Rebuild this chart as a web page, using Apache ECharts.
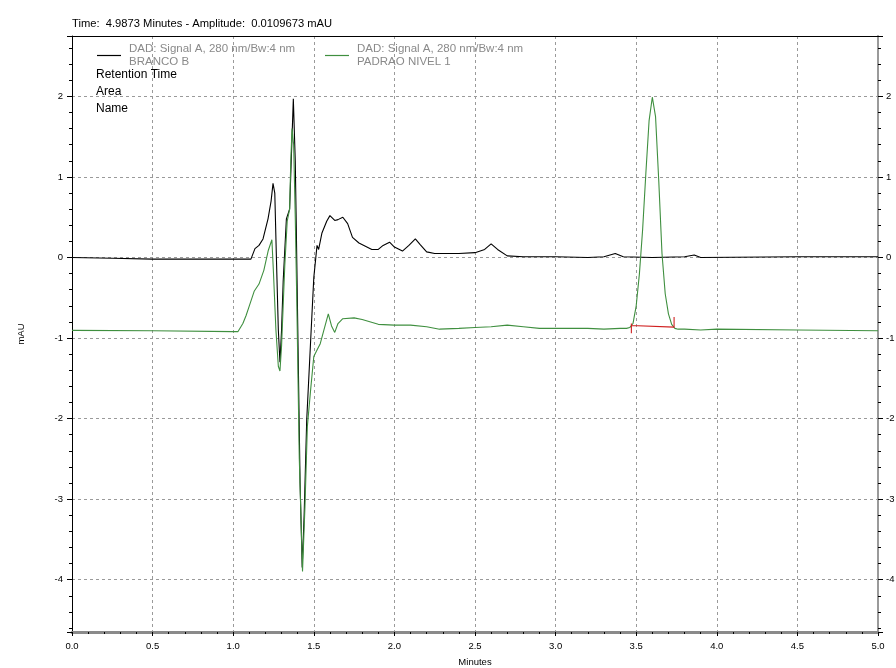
<!DOCTYPE html>
<html>
<head>
<meta charset="utf-8">
<script src="https://cdn.jsdelivr.net/npm/echarts@6/dist/echarts.min.js"></script>
<style>html,body{margin:0;padding:0;background:#fff}#c{width:896px;height:668px}</style>
</head>
<body>
<div id="c"></div>
<script>
// ---- data ----
var headerText = 'Time:  4.9873 Minutes - Amplitude:  0.0109673 mAU';
var signalLabel = 'DAD: Signal A, 280 nm/Bw:4 nm';
var seriesNames = ['BRANCO B', 'PADRAO NIVEL 1'];
var infoLines = ['Retention Time', 'Area', 'Name'];

var brancoTimes = [0, 0.25, 0.5, 0.75, 1.0, 1.11, 1.135, 1.16, 1.185, 1.216, 1.235, 1.247, 1.258, 1.268, 1.28, 1.29, 1.30, 1.31, 1.33, 1.35, 1.36, 1.373, 1.385, 1.39, 1.40, 1.415, 1.428, 1.44, 1.456, 1.48, 1.50, 1.52, 1.53, 1.55, 1.58, 1.60, 1.63, 1.65, 1.68, 1.71, 1.74, 1.78, 1.82, 1.86, 1.90, 1.93, 1.97, 2.00, 2.05, 2.09, 2.13, 2.16, 2.20, 2.25, 2.40, 2.50, 2.56, 2.60, 2.64, 2.70, 2.80, 3.00, 3.20, 3.30, 3.37, 3.42, 3.60, 3.80, 3.86, 3.90, 4.50, 5.00];
var brancoValues = [0.0, -0.01, -0.02, -0.02, -0.02, -0.02, 0.11, 0.15, 0.23, 0.48, 0.7, 0.92, 0.8, 0.0, -0.9, -1.3, -0.9, -0.3, 0.48, 0.6, 1.2, 1.97, 1.2, 0.56, -0.8, -2.8, -3.85, -3.2, -2.02, -1.05, -0.25, 0.15, 0.1, 0.3, 0.45, 0.52, 0.46, 0.47, 0.5, 0.42, 0.25, 0.18, 0.14, 0.1, 0.1, 0.15, 0.19, 0.13, 0.08, 0.15, 0.23, 0.16, 0.07, 0.05, 0.05, 0.06, 0.1, 0.17, 0.1, 0.02, 0.01, 0.01, 0.0, 0.01, 0.05, 0.01, 0.0, 0.01, 0.03, 0.0, 0.01, 0.01];

var padraoTimes = [0, 0.5, 1.0, 1.03, 1.06, 1.08, 1.10, 1.13, 1.16, 1.19, 1.218, 1.24, 1.25, 1.265, 1.28, 1.29, 1.30, 1.31, 1.32, 1.335, 1.35, 1.357, 1.365, 1.375, 1.385, 1.395, 1.41, 1.43, 1.445, 1.46, 1.48, 1.50, 1.52, 1.54, 1.56, 1.59, 1.61, 1.63, 1.65, 1.68, 1.75, 1.80, 1.90, 2.00, 2.10, 2.20, 2.28, 2.40, 2.50, 2.60, 2.70, 2.80, 2.90, 3.00, 3.20, 3.30, 3.40, 3.44, 3.46, 3.48, 3.50, 3.52, 3.54, 3.56, 3.58, 3.60, 3.62, 3.64, 3.66, 3.68, 3.70, 3.72, 3.74, 3.76, 3.80, 3.90, 4.00, 4.50, 5.00];
var padraoValues = [-0.905, -0.91, -0.92, -0.92, -0.82, -0.72, -0.6, -0.42, -0.33, -0.16, 0.09, 0.22, -0.2, -0.9, -1.35, -1.41, -1.1, -0.6, -0.1, 0.45, 0.6, 1.18, 1.6, 1.4, 0.5, -0.6, -2.5, -3.9, -3.1, -2.1, -1.65, -1.23, -1.15, -1.07, -0.92, -0.7, -0.85, -0.93, -0.82, -0.76, -0.75, -0.77, -0.83, -0.84, -0.84, -0.86, -0.89, -0.88, -0.87, -0.86, -0.84, -0.86, -0.88, -0.88, -0.88, -0.89, -0.88, -0.88, -0.87, -0.82, -0.6, -0.2, 0.35, 1.05, 1.7, 1.99, 1.75, 0.95, 0.05, -0.45, -0.7, -0.83, -0.88, -0.89, -0.89, -0.9, -0.89, -0.9, -0.91];

var baselineTimes = [3.47, 3.47, 3.47, 3.735, 3.735];
var baselineValues = [-0.94, -0.82, -0.845, -0.865, -0.74];

var xTickLabelsStep = 0.5;

function zip(a, b) { return a.map(function (v, i) { return [v, b[i]]; }); }

var FONT = 'Liberation Sans, Arial, sans-serif';
var gridDash = { color: '#9a9a9a', type: [3, 3], width: 1 };

var legendBase = {
  selectedMode: false, padding: 0,
  icon: 'rect', itemWidth: 24, itemHeight: 1.2,
  formatter: function (n) { return signalLabel + '\n' + n; },
  textStyle: { color: '#8a8a8a', fontSize: 11.5, lineHeight: 12.5, fontFamily: FONT, padding: [0, 0, 0, 3] }
};

var chart = echarts.init(document.getElementById('c'), null, { renderer: 'canvas' });
chart.setOption({
  animation: false,
  backgroundColor: '#fff',
  textStyle: { fontFamily: FONT },
  title: {
    text: headerText, left: 67, top: 13,
    textStyle: { fontSize: 11.2, fontWeight: 'normal', color: '#000', fontFamily: FONT }
  },
  legend: [
    Object.assign({}, legendBase, { data: [seriesNames[0]], left: 97, top: 43 }),
    Object.assign({}, legendBase, { data: [seriesNames[1]], left: 325, top: 43 })
  ],
  graphic: infoLines.map(function (t, i) {
    return {
      type: 'text', left: 96, top: 69 + i * 17,
      style: { text: t, fill: '#000', font: '12px ' + FONT }
    };
  }),
  grid: { left: 72, right: 18, top: 36, bottom: 36, containLabel: false, outerBoundsMode: 'none' },
  xAxis: [
    {
      type: 'value', min: 0, max: 5, interval: xTickLabelsStep, position: 'bottom',
      name: 'Minutes', nameLocation: 'middle', nameGap: 25,
      nameTextStyle: { fontSize: 9.5, color: '#000', fontFamily: FONT },
      axisLine: { onZero: false, lineStyle: { color: '#8a8a8a', width: 3 } },
      axisTick: { length: 4, lineStyle: { color: '#000' } },
      minorTick: { show: true, splitNumber: 5, length: 2, lineStyle: { color: '#000' } },
      axisLabel: { fontSize: 9.5, color: '#000', margin: 9, formatter: function (v) { return v.toFixed(1); } },
      splitLine: { show: true, lineStyle: gridDash, showMinLine: false, showMaxLine: false }
    },
    {
      type: 'value', min: 0, max: 5, interval: xTickLabelsStep, position: 'top',
      axisLine: { show: true, onZero: false, lineStyle: { color: '#000', width: 1 } },
      axisTick: { show: false }, axisLabel: { show: false }, splitLine: { show: false }
    }
  ],
  yAxis: [
    {
      type: 'value', min: -4.65, max: 2.75, splitNumber: 7, position: 'left',
      name: 'mAU', nameLocation: 'middle', nameGap: 46,
      nameTextStyle: { fontSize: 9.5, color: '#000', fontFamily: FONT },
      axisLine: { show: true, onZero: false, lineStyle: { color: '#000', width: 1 } },
      axisTick: { show: true, length: 5, lineStyle: { color: '#000' } },
      minorTick: { show: true, splitNumber: 5, length: 3, lineStyle: { color: '#000' } },
      axisLabel: { fontSize: 9.5, color: '#000', margin: 9, showMinLabel: false, showMaxLabel: false },
      splitLine: { show: true, lineStyle: gridDash, showMinLine: false, showMaxLine: false }
    },
    {
      type: 'value', min: -4.65, max: 2.75, splitNumber: 7, position: 'right',
      axisLine: { show: true, onZero: false, lineStyle: { color: '#9a9a9a', width: 2 } },
      axisTick: { show: true, length: 5, lineStyle: { color: '#000' } },
      minorTick: { show: true, splitNumber: 5, length: 3, lineStyle: { color: '#000' } },
      axisLabel: { fontSize: 9.5, color: '#000', margin: 8, showMinLabel: false, showMaxLabel: false },
      splitLine: { show: false }
    }
  ],
  series: [
    {
      name: seriesNames[0], type: 'line', data: zip(brancoTimes, brancoValues),
      showSymbol: false, symbol: 'none', color: '#000',
      lineStyle: { color: '#000', width: 1.1 }, z: 2
    },
    {
      name: seriesNames[1], type: 'line', data: zip(padraoTimes, padraoValues),
      showSymbol: false, symbol: 'none', color: '#3f8f3f',
      lineStyle: { color: '#3f8f3f', width: 1.1 }, z: 3
    },
    {
      name: 'baseline', type: 'line', data: zip(baselineTimes, baselineValues),
      showSymbol: false, symbol: 'none', color: '#d02020',
      lineStyle: { color: '#d02020', width: 1.1 }, z: 4
    }
  ]
});
</script>
</body>
</html>
